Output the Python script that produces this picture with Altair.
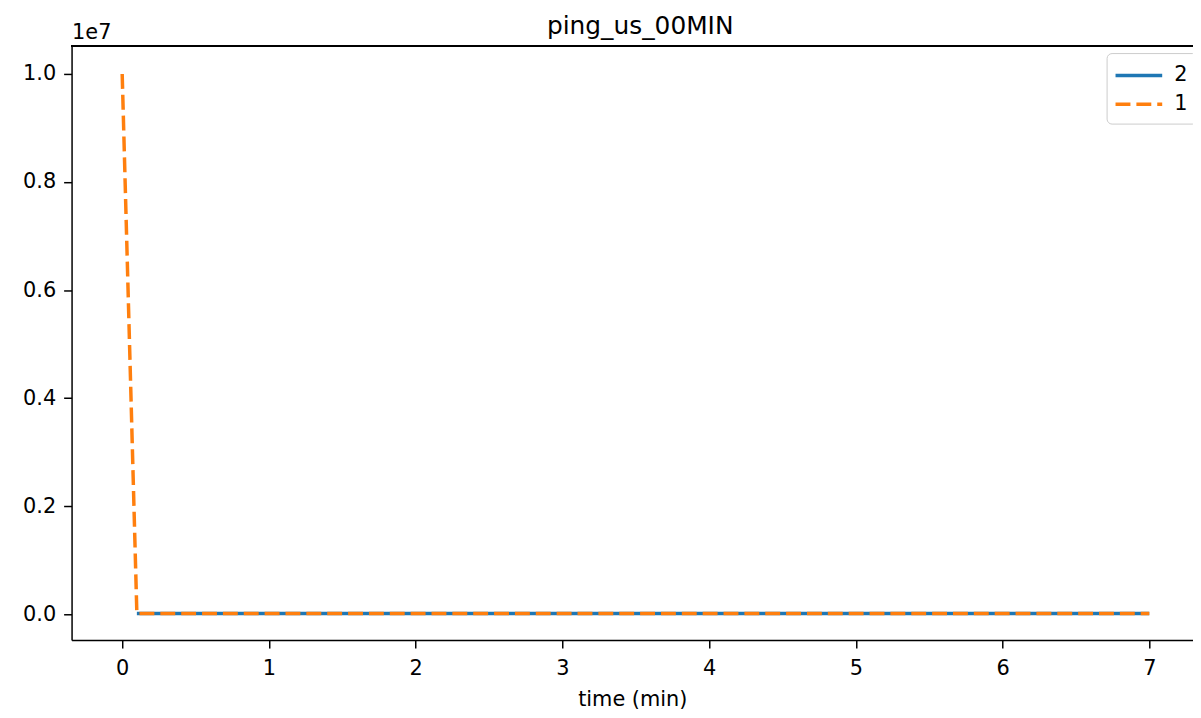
import altair as alt
import pandas as pd

# Series "1" (orange, dashed)
time_1 = [0.0, 0.1, 0.5, 1.0, 1.5, 2.0, 2.5, 3.0, 3.5, 4.0, 4.5, 5.0, 5.5, 6.0, 6.5, 7.0]
ping_1 = [10000000, 15000, 15000, 15000, 15000, 15000, 15000, 15000, 15000,
          15000, 15000, 15000, 15000, 15000, 15000, 15000]
# Series "2" (blue, solid)
time_2 = [0.1, 0.5, 1.0, 1.5, 2.0, 2.5, 3.0, 3.5, 4.0, 4.5, 5.0, 5.5, 6.0, 6.5, 7.0]
ping_2 = [15000, 15000, 15000, 15000, 15000, 15000, 15000, 15000, 15000,
          15000, 15000, 15000, 15000, 15000, 15000]

series_order = ["2", "1"]
series_colors = ["#1f77b4", "#ff7f0e"]
series_dash = [[1, 0], [15, 6]]
y_ticks = [0, 2000000, 4000000, 6000000, 8000000, 10000000]
x_ticks = [0, 1, 2, 3, 4, 5, 6, 7]

df1 = pd.DataFrame({"time": time_1, "ping": ping_1, "series": "1"})
df2 = pd.DataFrame({"time": time_2, "ping": ping_2, "series": "2"})

W, H = 1129, 598
FONT = "DejaVu Sans"

x_enc = alt.X("time:Q",
              scale=alt.Scale(domain=[-0.345, 7.298], nice=False, zero=False),
              axis=alt.Axis(values=x_ticks, title="time (min)", format="d",
                            grid=False, tickSize=8, labelPadding=10,
                            titlePadding=10))
y_enc = alt.Y("ping:Q",
              scale=alt.Scale(domain=[-478000, 10515000], nice=False, zero=False),
              axis=alt.Axis(values=y_ticks, grid=False, tickSize=8,
                            labelPadding=8,
                            labelExpr="format(datum.value / 10000000, '.1f')",
                            title="1e7", titleAngle=0, titleX=0, titleY=-8,
                            titleAlign="left", titleBaseline="alphabetic"))
color_enc = alt.Color("series:N",
                      scale=alt.Scale(domain=series_order, range=series_colors),
                      legend=alt.Legend(title=None))
dash_enc = alt.StrokeDash("series:N",
                          scale=alt.Scale(domain=series_order, range=series_dash),
                          legend=alt.Legend(title=None))

blue = alt.Chart(df2).mark_line(strokeWidth=3.5).encode(
    x=x_enc, y=y_enc, color=color_enc, strokeDash=dash_enc)
orange = alt.Chart(df1).mark_line(strokeWidth=3.5).encode(
    x=x_enc, y=y_enc, color=color_enc, strokeDash=dash_enc)

top_spine = alt.Chart(df1).mark_rule(color="black", strokeWidth=1.5).encode(
    x=alt.value(0), x2=alt.value(W), y=alt.value(0))

chart = alt.layer(blue, orange, top_spine).properties(
    width=W, height=H,
    title=alt.TitleParams("ping_us_00MIN", fontSize=25, font=FONT,
                          fontWeight="normal", color="black",
                          baseline="alphabetic", offset=-38, dx=8),
    autosize=alt.AutoSizeParams(type="none"),
    padding={"left": 64, "top": 36, "right": 0, "bottom": 70},
).configure_view(stroke=None).configure_axis(
    labelFont=FONT, titleFont=FONT, labelFontSize=21, titleFontSize=21,
    labelColor="black", titleColor="black", titleFontWeight="normal",
    domainColor="black", tickColor="black", domainWidth=1.5, tickWidth=1.5,
).configure_legend(
    orient="none", legendX=1042, legendY=7,
    strokeColor="#cccccc", fillColor="white", cornerRadius=5, padding=9,
    labelFont=FONT, labelFontSize=21, labelColor="black", labelOffset=22,
    symbolType="M-2,0H2", symbolSize=552, symbolStrokeWidth=3.5,
    symbolOffset=10, rowPadding=5,
)

chart.save("out.html", embed_options={"renderer": "svg", "actions": False})
